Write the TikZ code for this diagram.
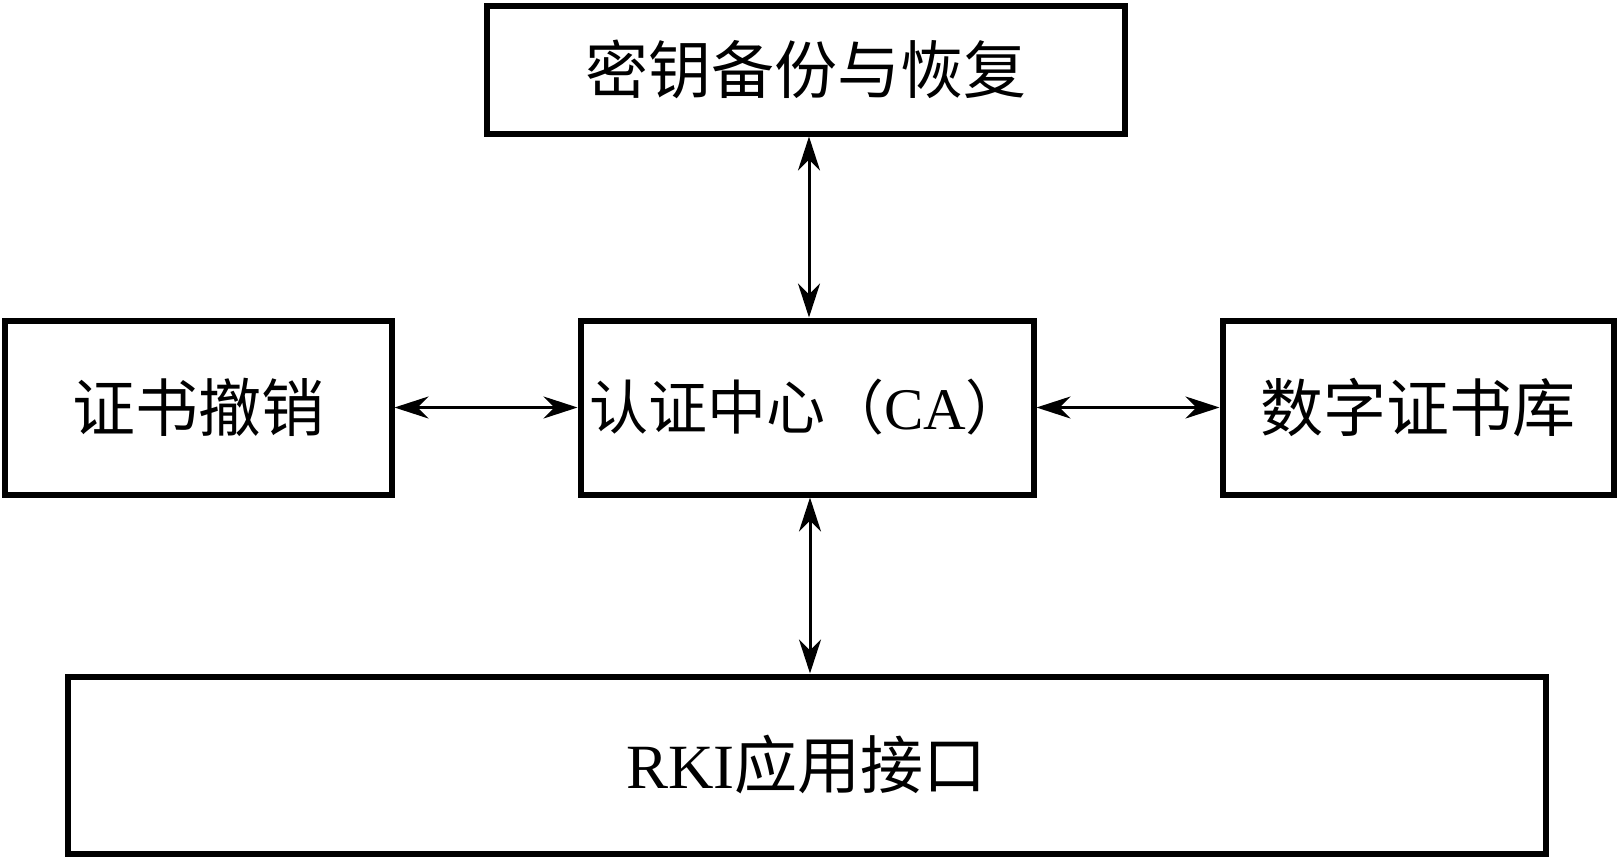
\documentclass[tikz,border=0pt]{standalone}
\usepackage{fontspec}
\setmainfont{Liberation Serif}
\newfontfamily\cjk{Noto Sans CJK SC}
\usetikzlibrary{arrows.meta}
\begin{document}
\begin{tikzpicture}[x=1pt,y=-1pt,
  box/.style={draw=black,line width=6pt,minimum width=#1,inner sep=0pt,
    font=\fontsize{63}{75}\selectfont},
  arr/.style={line width=3pt,{Stealth[length=34pt,width=22pt,inset=11pt]}-{Stealth[length=34pt,width=22pt,inset=11pt]}}]
\useasboundingbox (0,0) rectangle (1618,860);
\node[box=638pt,minimum height=128pt] (top) at (806,69.5) {\cjk 密钥备份与恢复};
\node[box=387pt,minimum height=174pt] (left) at (198,407.5) {\cjk 证书撤销};
\node[box=453pt,minimum height=174pt,font=\fontsize{59}{70}\selectfont] (ca) at (807,407.5) {{\cjk 认证中心（}CA{\cjk ）}};
\node[box=391pt,minimum height=174pt] (right) at (1418,407.5) {\cjk 数字证书库};
\node[box=1478pt,minimum height=177pt] (rki) at (806.5,765) {RKI{\cjk 应用接口}};
\draw[arr] ([xshift=3pt]top.south) -- ([xshift=3pt]top.south |- ca.north);
\draw[arr] (left.east) -- (ca.west);
\draw[arr] (ca.east) -- (right.west);
\draw[arr] ([xshift=3pt]ca.south) -- ([xshift=3pt]ca.south |- rki.north);
\end{tikzpicture}
\end{document}
